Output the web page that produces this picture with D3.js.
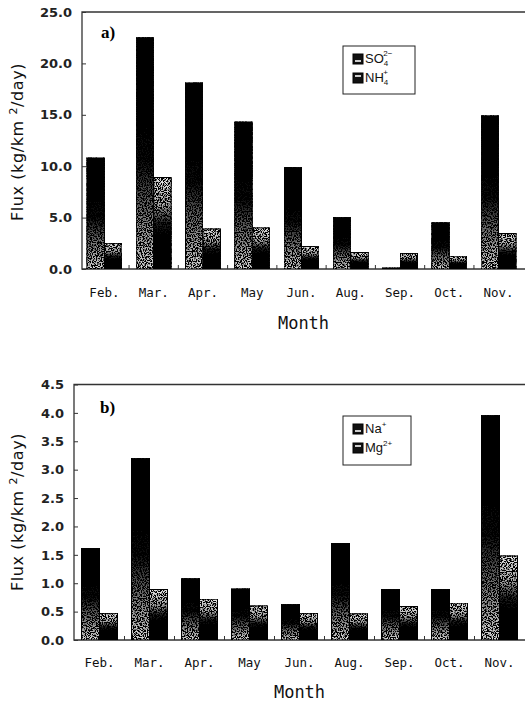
<!DOCTYPE html>
<html>
<head>
<meta charset="utf-8">
<script src="https://cdn.jsdelivr.net/npm/d3@7"></script>
<style>
  body { margin: 0; background: #fff; }
  svg { display: block; }
</style>
</head>
<body>
<div id="chart"></div>
<script>
// data
const months = ["Feb.", "Mar.", "Apr.", "May", "Jun.", "Aug.", "Sep.", "Oct.", "Nov."];
const so4 = [10.8, 22.5, 18.1, 14.3, 9.9, 5.0, 0.1, 4.5, 14.9];
const nh4 = [2.5, 8.9, 3.9, 4.0, 2.2, 1.6, 1.5, 1.25, 3.45];
const na = [1.62, 3.2, 1.08, 0.9, 0.63, 1.7, 0.89, 0.89, 3.96];
const mg = [0.47, 0.89, 0.72, 0.6, 0.47, 0.46, 0.59, 0.65, 1.48];
const ticksA = [0, 5, 10, 15, 20, 25];
const ticksB = [0, 0.5, 1, 1.5, 2, 2.5, 3, 3.5, 4, 4.5];

const svgWidth = 525;
const svgHeight = 701;

const svg = d3.select("#chart")
    .append("svg")
    .attr("width", svgWidth)
    .attr("height", svgHeight);

// gradients + speckle filter for the scanned look
const defs = svg.append("defs");
const gradDown = defs.append("linearGradient")
    .attr("id", "gradDown").attr("x1", 0).attr("y1", 0).attr("x2", 0).attr("y2", 1);
[[0, "#000"], [0.52, "#080808"], [0.72, "#666"], [1, "#d8d8d8"]]
    .forEach(s => gradDown.append("stop").attr("offset", s[0]).attr("stop-color", s[1]));
const gradUp = defs.append("linearGradient")
    .attr("id", "gradUp").attr("x1", 0).attr("y1", 0).attr("x2", 0).attr("y2", 1);
[[0, "#e8e8e8"], [0.3, "#aaa"], [0.5, "#222"], [0.62, "#050505"], [1, "#000"]]
    .forEach(s => gradUp.append("stop").attr("offset", s[0]).attr("stop-color", s[1]));

const speckle = defs.append("filter").attr("id", "speckle")
    .attr("x", 0).attr("y", 0).attr("width", 1).attr("height", 1);
speckle.append("feTurbulence")
    .attr("type", "fractalNoise").attr("baseFrequency", 0.8)
    .attr("numOctaves", 1).attr("seed", 3).attr("result", "noise");
speckle.append("feColorMatrix")
    .attr("in", "noise").attr("type", "matrix")
    .attr("values", "0 0 0 0 0  0 0 0 0 0  0 0 0 0 0  0 0 0 -9 5.2")
    .attr("result", "dots");
speckle.append("feComposite")
    .attr("in", "dots").attr("in2", "SourceGraphic").attr("operator", "in")
    .attr("result", "dotsIn");
const merge = speckle.append("feMerge");
merge.append("feMergeNode").attr("in", "SourceGraphic");
merge.append("feMergeNode").attr("in", "dotsIn");

function drawPanel(cfg) {
    const g = svg.append("g");

    const x0 = d3.scaleBand()
        .domain(months)
        .range([cfg.left, cfg.right])
        .paddingInner(cfg.padIn)
        .paddingOuter(cfg.padOut);

    const x1 = d3.scaleBand()
        .domain([0, 1])
        .range([0, x0.bandwidth()]);

    const y = d3.scaleLinear()
        .domain([0, cfg.yMax])
        .range([cfg.bottom, cfg.top]);

    // frame: top, left, bottom
    g.append("path")
        .attr("d", `M${svgWidth + 2},${y(cfg.yMax)}H${cfg.left}V${y(0)}H${svgWidth + 2}`)
        .attr("fill", "none")
        .attr("stroke", "#333")
        .attr("stroke-width", 1.3);

    // left axis: inner ticks + labels
    const leftAxis = d3.axisLeft(y)
        .tickValues(cfg.ticks)
        .tickSize(-4)
        .tickPadding(10)
        .tickFormat(d3.format(".1f"));
    const ax = g.append("g")
        .attr("transform", `translate(${cfg.left},0)`)
        .call(leftAxis);
    ax.select(".domain").remove();
    ax.selectAll(".tick line").attr("stroke", "#333");
    ax.selectAll(".tick text")
        .attr("font-family", "'DejaVu Sans', sans-serif")
        .attr("font-size", 13)
        .attr("font-weight", "bold")
        .attr("fill", "#222");

    // small ticks on the bottom line between groups
    g.selectAll(".gapTick")
        .data(months.slice(1))
        .join("line")
        .attr("x1", d => x0(d) - x0.step() * cfg.padIn / 2)
        .attr("x2", d => x0(d) - x0.step() * cfg.padIn / 2)
        .attr("y1", y(0))
        .attr("y2", y(0) - 4)
        .attr("stroke", "#333");

    // bars
    const series = [cfg.s1, cfg.s2];
    const fills = ["url(#gradDown)", "url(#gradUp)"];
    series.forEach((vals, si) => {
        g.selectAll(`.bar${si}`)
            .data(vals)
            .join("rect")
            .attr("x", (d, i) => x0(months[i]) + x1(si))
            .attr("y", d => y(d))
            .attr("width", x1.bandwidth())
            .attr("height", d => y(0) - y(d))
            .attr("fill", fills[si])
            .attr("filter", "url(#speckle)")
            .attr("stroke", "#000")
            .attr("stroke-width", 1);
    });

    // month labels
    g.selectAll(".month")
        .data(months)
        .join("text")
        .attr("x", d => x0(d) + x0.bandwidth() / 2)
        .attr("y", cfg.monthY)
        .attr("text-anchor", "middle")
        .attr("font-family", "'DejaVu Sans Mono', monospace")
        .attr("font-size", 12.5)
        .attr("fill", "#111")
        .text(d => d);

    // x title
    g.append("text")
        .attr("x", (cfg.left + svgWidth) / 2)
        .attr("y", cfg.titleY)
        .attr("text-anchor", "middle")
        .attr("font-family", "'DejaVu Sans Mono', monospace")
        .attr("font-size", 17)
        .attr("fill", "#111")
        .text("Month");

    // y title
    const yt = g.append("text")
        .attr("transform", `translate(23,${cfg.yTitleY}) rotate(-90)`)
        .attr("text-anchor", "middle")
        .attr("font-family", "'DejaVu Sans', sans-serif")
        .attr("font-size", 16)
        .attr("letter-spacing", 0.6)
        .attr("fill", "#111");
    yt.append("tspan").text("Flux (kg/km ");
    yt.append("tspan").attr("dy", -6).attr("font-size", 11).text("2");
    yt.append("tspan").attr("dy", 6).text("/day)");

    // panel label
    g.append("text")
        .attr("x", cfg.labelX)
        .attr("y", cfg.labelY)
        .attr("font-family", "'Liberation Serif', serif")
        .attr("font-weight", "bold")
        .attr("font-size", 17)
        .attr("fill", "#000")
        .text(cfg.label);

    // legend
    const lg = g.append("g").attr("transform", `translate(${cfg.legX},${cfg.legY})`);
    lg.append("rect")
        .attr("width", cfg.legW).attr("height", cfg.legH)
        .attr("fill", "#fff").attr("stroke", "#222").attr("stroke-width", 1);
    cfg.legNames.forEach((nm, i) => {
        const ly = 17 + i * 19;
        lg.append("rect")
            .attr("x", 10).attr("y", ly - 9)
            .attr("width", 10).attr("height", 10)
            .attr("fill", "#111").attr("stroke", "#000");
        lg.append("rect")
            .attr("x", 12).attr("y", i === 0 ? ly - 3 : ly - 7)
            .attr("width", 6).attr("height", 2)
            .attr("fill", "#ccc");
        const t = lg.append("text")
            .attr("x", 22).attr("y", ly)
            .attr("font-family", "'Liberation Sans', Arial, sans-serif")
            .attr("font-size", 13)
            .attr("fill", "#111");
        t.append("tspan").text(nm[0]);
        if (nm[1]) t.append("tspan").attr("dy", 3).attr("font-size", 8).text(nm[1]);
        t.append("tspan")
            .attr("dx", nm[1] ? -5 : 0)
            .attr("dy", nm[1] ? -10 : -6).attr("font-size", 8).text(nm[2]);
    });
}

drawPanel({
    left: 82, right: 521, padIn: 0.29, padOut: 0.1,
    top: 12, bottom: 269, yMax: 25, ticks: ticksA,
    s1: so4, s2: nh4,
    monthY: 297, titleY: 329, yTitleY: 142,
    label: "a)", labelX: 101, labelY: 38,
    legX: 343, legY: 46, legW: 72, legH: 48,
    legNames: [["SO", "4", "2\u2212"], ["NH", "4", "+"]]
});

drawPanel({
    left: 74, right: 525, padIn: 0.28, padOut: 0.15,
    top: 384.5, bottom: 640, yMax: 4.5, ticks: ticksB,
    s1: na, s2: mg,
    monthY: 667, titleY: 698, yTitleY: 512,
    label: "b)", labelX: 100, labelY: 413,
    legX: 343, legY: 416, legW: 68, legH: 49,
    legNames: [["Na", "", "+"], ["Mg", "", "2+"]]
});
</script>
</body>
</html>
